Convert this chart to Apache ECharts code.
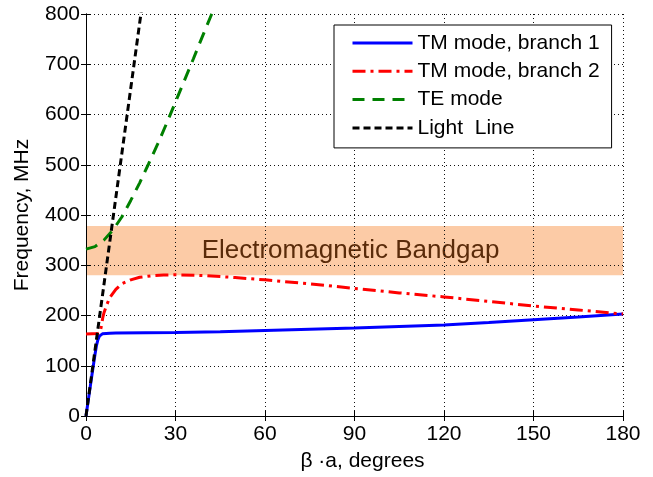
<!DOCTYPE html>
<html>
<head>
<meta charset="utf-8">
<script src="https://cdn.jsdelivr.net/npm/echarts@6/dist/echarts.min.js"></script>
<style>html,body{margin:0;padding:0;background:#fff}#c{width:653px;height:477px}</style>
</head>
<body>
<div id="c"></div>
<script>
// ---- data ----
const xTicks = [0, 30, 60, 90, 120, 150, 180];
const yTicks = [0, 100, 200, 300, 400, 500, 600, 700, 800];

const blueX = [0, 1, 2, 3, 3.5, 4, 4.5, 5, 5.5, 6, 8, 10, 20, 30, 45, 60, 75, 90, 105, 120, 135, 150, 165, 180];
const blueY = [0, 41, 82, 122, 140, 152, 159, 162, 163.5, 164, 164.5, 165, 165.5, 166, 167.5, 170, 172.5, 175, 178, 181, 186, 191.5, 197, 203];

const redX = [0, 2, 4, 4.7, 5.2, 5.6, 6, 7, 8, 10, 12, 15, 18, 22, 26, 30, 40, 50, 60, 75, 90, 105, 120, 135, 150, 165, 180];
const redY = [163, 163.5, 164, 166, 180, 195, 205, 222, 236, 252, 263, 271, 276, 279, 280.5, 281, 279.5, 275.5, 271, 263, 254, 245, 237, 228, 219, 211, 203];

const greenX = [0, 3, 6, 9, 12, 15, 18, 21, 24, 27, 30, 33, 36, 39, 42, 45];
const greenY = [332, 337, 350, 370, 396, 429, 464, 502, 541, 582, 625, 668, 711, 755, 798, 840];

const lightX = [0, 18.4, 20];
const lightY = [0, 800, 870];

const bandLow = 280;
const bandHigh = 378;
const bandText = 'Electromagnetic Bandgap';

const names = ['TM mode, branch 1', 'TM mode, branch 2', 'TE mode', 'Light  Line'];

// ---- build ----
const pairs = (xs, ys) => xs.map((x, i) => [x, ys[i]]);
const FONT = 'Liberation Sans, Arial, Helvetica, sans-serif';

const chart = echarts.init(document.getElementById('c'), null, {renderer: 'canvas'});

const axisCommon = {
  type: 'value',
  z: 3,
  axisLine: {show: true, lineStyle: {color: '#000', width: 1}},
  axisTick: {show: true, inside: true, length: 5, lineStyle: {color: '#000', width: 1}},
};

const option = {
  animation: false,
  backgroundColor: '#fff',
  textStyle: {fontFamily: FONT},
  grid: {left: 86, right: 30, top: 14, bottom: 57, containLabel: false},
  legend: {
    data: names,
    orient: 'vertical',
    left: 334,
    top: 25,
    z: 10,
    itemWidth: 60,
    itemHeight: 22,
    itemGap: 6.3,
    padding: [7, 12, 9, 17],
    backgroundColor: '#fff',
    borderColor: '#000',
    borderWidth: 1,
    borderRadius: 0,
    itemStyle: {color: 'transparent', borderWidth: 0, opacity: 0},
    lineStyle: {width: 3},
    textStyle: {fontSize: 21, color: '#000', fontFamily: FONT, lineHeight: 22}
  },
  xAxis: [
    Object.assign({}, axisCommon, {
      position: 'bottom', min: 0, max: 180, interval: 30,
      axisLabel: {fontSize: 21, color: '#000', margin: 8, fontFamily: FONT},
      splitLine: {show: true, lineStyle: {color: '#111', width: 1, type: [1, 3]}},
      name: 'β ·a, degrees', nameLocation: 'middle', nameGap: 35,
      nameTextStyle: {fontSize: 21, color: '#000', fontFamily: FONT, padding: [0, 0, 0, 16]}
    }),
    Object.assign({}, axisCommon, {
      position: 'top', min: 0, max: 180, interval: 30,
      axisLabel: {show: false}, splitLine: {show: false}
    })
  ],
  yAxis: [
    Object.assign({}, axisCommon, {
      position: 'left', min: 0, max: 800, interval: 100,
      axisLabel: {fontSize: 21, color: '#000', margin: 6, fontFamily: FONT},
      splitLine: {show: true, lineStyle: {color: '#111', width: 1, type: [1, 3]}},
      name: 'Frequency, MHz', nameLocation: 'middle', nameGap: 53, nameRotate: 90,
      nameTextStyle: {fontSize: 21, color: '#000', fontFamily: FONT}
    }),
    Object.assign({}, axisCommon, {
      position: 'right', min: 0, max: 800, interval: 100,
      axisLabel: {show: false}, splitLine: {show: false}
    })
  ],
  series: [
    {
      name: names[0], type: 'line', z: 5, symbol: 'none', smooth: false,
      data: pairs(blueX, blueY),
      lineStyle: {color: '#0000FF', width: 3},
      itemStyle: {color: '#0000FF'},
      markArea: {
        silent: true, z: 1,
        itemStyle: {color: '#FCCBA6'},
        label: {show: true, position: 'inside', fontSize: 26, color: '#5A2B0A', fontFamily: FONT, offset: [-4, 0]},
        data: [[{yAxis: bandLow, name: bandText}, {yAxis: bandHigh}]]
      }
    },
    {
      name: names[1], type: 'line', z: 6, symbol: 'none',
      data: pairs(redX, redY),
      lineStyle: {color: '#FF0000', width: 3, type: [13, 5, 3, 5]},
      itemStyle: {color: '#FF0000'}
    },
    {
      name: names[2], type: 'line', z: 6, symbol: 'none',
      data: pairs(greenX, greenY),
      lineStyle: {color: '#008000', width: 3, type: [12, 8]},
      itemStyle: {color: '#008000'}
    },
    {
      name: names[3], type: 'line', z: 7, symbol: 'none',
      data: pairs(lightX, lightY),
      lineStyle: {color: '#000000', width: 3, type: [7, 4]},
      itemStyle: {color: '#000000'}
    }
  ]
};
chart.setOption(option);
</script>
</body>
</html>
